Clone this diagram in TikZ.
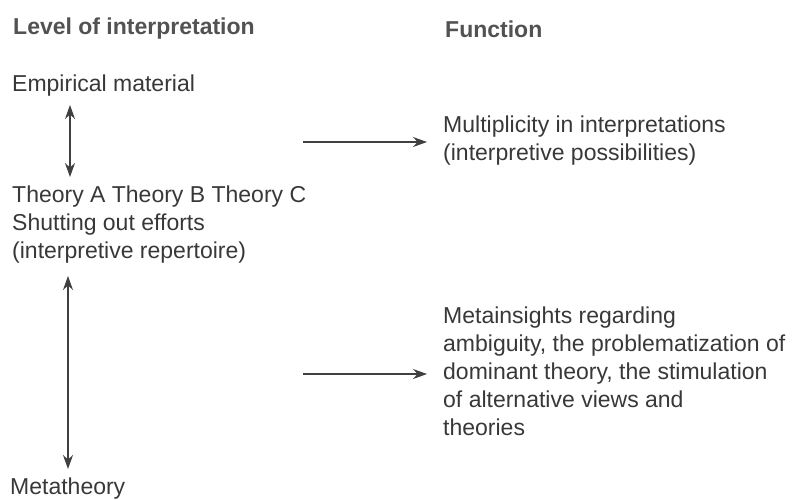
\documentclass[tikz,border=0pt]{standalone}
\usepackage{fontspec}
\setmainfont{Liberation Sans}
\usetikzlibrary{arrows.meta}
\begin{document}
\begin{tikzpicture}[x=1pt,y=-1pt,
  txt/.style={anchor=west,inner sep=0pt,align=left,text=black!78,font=\fontsize{23}{28}\selectfont},
  head/.style={anchor=west,inner sep=0pt,text=black!68,font=\fontsize{23}{28}\selectfont\bfseries},
  link/.style={draw=black!75,line width=1.3pt,-{Stealth[length=14pt,width=10pt]}},
  dlink/.style={draw=black!75,line width=1.3pt,{Stealth[length=14pt,width=10pt]}-{Stealth[length=14pt,width=10pt]}}]
\useasboundingbox (0,0) rectangle (798,499);
\node[head] (lev) at (13,29) {Level of interpretation};
\node[head] (fun) at (445,29) {Function};
\node[txt] (emp) at (12,86) {Empirical material};
\node[txt] (theo) at (12,225) {Theory A Theory B Theory C\\Shutting out efforts\\(interpretive repertoire)};
\node[txt] (meta) at (10,489) {Metatheory};
\node[txt] (mult) at (443,141) {Multiplicity in interpretations\\(interpretive possibilities)};
\node[txt] (mins) at (443,371) {Metainsights regarding\\ambiguity, the problematization of\\dominant theory, the stimulation\\of alternative views and\\theories};
\coordinate (v1a) at (70,105);
\coordinate (v1b) at (70,177);
\coordinate (v2a) at (68,276);
\coordinate (v2b) at (68,469);
\coordinate (h1) at (303,142);
\coordinate (h2) at (303,374);
\draw[dlink] (v1a) -- (v1b);
\draw[dlink] (v2a) -- (v2b);
\draw[link,shorten >=16pt] (h1) -- (mult.west |- h1);
\draw[link,shorten >=16pt] (h2) -- (mins.west |- h2);
\end{tikzpicture}
\end{document}
